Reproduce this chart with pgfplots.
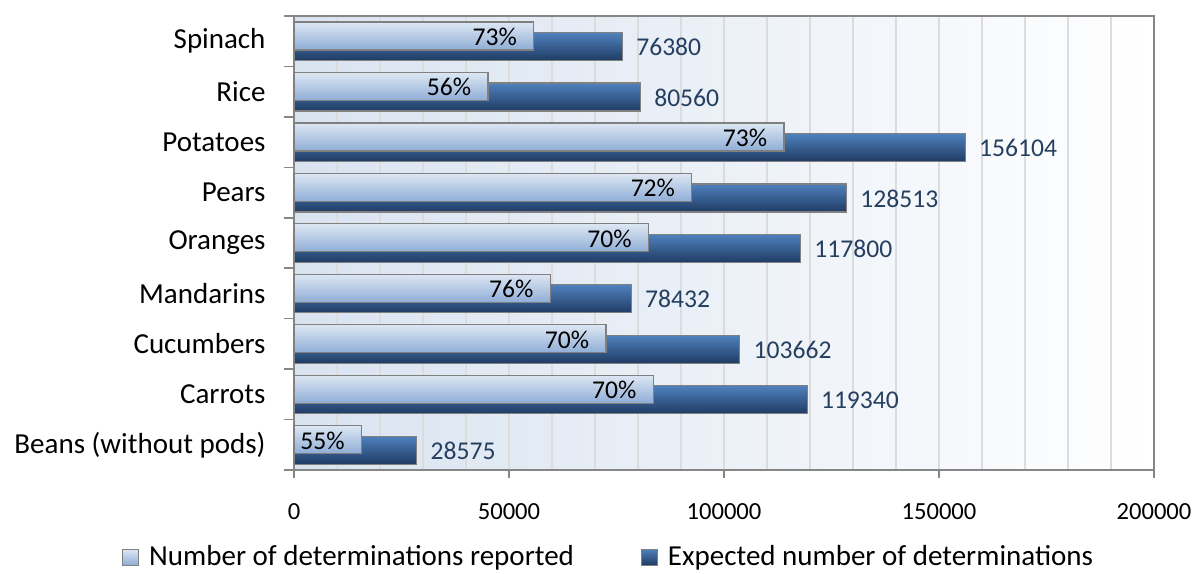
\documentclass[border=0pt]{standalone}
\usepackage{pgfplots}
\pgfplotsset{compat=1.18}
\usepackage{pgfplotstable}
\usepackage{fontspec}
\setmainfont{Carlito}

\definecolor{lightTop}{HTML}{DDE7F3}
\definecolor{lightBot}{HTML}{8FADD6}
\definecolor{darkTop}{HTML}{4F81BD}
\definecolor{darkBot}{HTML}{1F3B63}
\definecolor{barEdge}{HTML}{808080}
\definecolor{gridGray}{HTML}{DCDCDC}
\definecolor{axisGray}{HTML}{868686}
\definecolor{bgBlue}{HTML}{D9E3F0}
\definecolor{valBlue}{HTML}{243F60}

% idx 0 = bottom category
\pgfplotstableread{
idx expected reported pct
0   28575    15716    55
1   119340   83538    70
2   103662   72563    70
3   78432    59608    76
4   117800   82460    70
5   128513   92529    72
6   156104   113956   73
7   80560    45114    56
8   76380    55757    73
}\datatable

\begin{document}
\begin{tikzpicture}
\useasboundingbox (0,0) rectangle (599pt,286.5pt);
\begin{axis}[
  at={(147pt,51.5pt)}, anchor=south west,
  scale only axis,
  width=430pt, height=227pt,
  xmin=0, xmax=200000,
  ymin=-0.5, ymax=8.5,
  enlargelimits=false,
  scaled x ticks=false,
  axis background/.style={left color=bgBlue, right color=white},
  axis line style={axisGray, line width=0.75pt},
  tick align=outside,
  tick pos=left,
  xtick={0,50000,100000,150000,200000},
  xticklabels={0,50000,100000,150000,200000},
  minor xtick={10000,20000,...,190000},
  xmajorgrids, xminorgrids,
  grid style={gridGray, line width=0.6pt},
  ytick={0,...,8},
  yticklabels={Beans (without pods),Carrots,Cucumbers,Mandarins,Oranges,Pears,Potatoes,Rice,Spinach},
  minor ytick={-0.5,0.5,...,8.5},
  major tick length=4pt,
  minor tick length=5pt,
  major x tick style={axisGray, line width=0.75pt},
  minor x tick style={draw=none},
  major y tick style={draw=none},
  minor y tick style={axisGray, line width=0.75pt},
  xticklabel style={font=\fontsize{12.3}{14}\selectfont, yshift=-9.4pt},
  yticklabel style={font=\fontsize{14.5}{17}\selectfont, xshift=-6.7pt},
  legend columns=2,
  legend cell align=left,
  legend style={at={(0.367,-0.192)}, anchor=center, draw=none, fill=none,
    font=\fontsize{14.5}{17}\selectfont,
    /tikz/every even column/.append style={column sep=31.5pt}},
  clip=false,
]
\addlegendimage{legend image code/.code={\draw[draw=barEdge, line width=0.6pt, top color=lightTop, bottom color=lightBot] (0pt,-4pt) rectangle (8pt,4pt); \path (11pt,0pt);}}
\addlegendimage{legend image code/.code={\draw[draw=barEdge, line width=0.6pt, top color=darkTop, bottom color=darkBot] (0pt,-4pt) rectangle (8pt,4pt); \path (11pt,0pt);}}

% expected number of determinations: one plot per row so each bar gets its own shading
\pgfplotsinvokeforeach{0,...,8}{
\addplot[xbar, bar width=14pt, bar shift=-2.7pt, forget plot,
  draw=barEdge, line width=0.6pt, top color=darkTop, bottom color=darkBot,
  restrict expr to domain={\coordindex}{#1:#1},
  point meta=explicit symbolic,
  nodes near coords,
  nodes near coords style={anchor=west, xshift=3.3pt, yshift=-2.9pt, text=valBlue,
    font=\fontsize{12.8}{15}\selectfont}]
  table[x=expected, y=idx, meta=expected] {\datatable};
}

% number of determinations reported, drawn on top
\pgfplotsinvokeforeach{0,...,8}{
\addplot[xbar, bar width=14pt, bar shift=2.6pt, forget plot,
  draw=barEdge, line width=0.6pt, top color=lightTop, bottom color=lightBot,
  restrict expr to domain={\coordindex}{#1:#1},
  point meta=explicit symbolic,
  nodes near coords={\pgfplotspointmeta\%},
  nodes near coords style={anchor=east, xshift=-4.8pt, yshift=2.2pt, text=black,
    font=\fontsize{12.8}{15}\selectfont}]
  table[x=reported, y=idx, meta=pct] {\datatable};
}

\legend{Number of determinations reported, Expected number of determinations}
\end{axis}
\end{tikzpicture}
\end{document}
